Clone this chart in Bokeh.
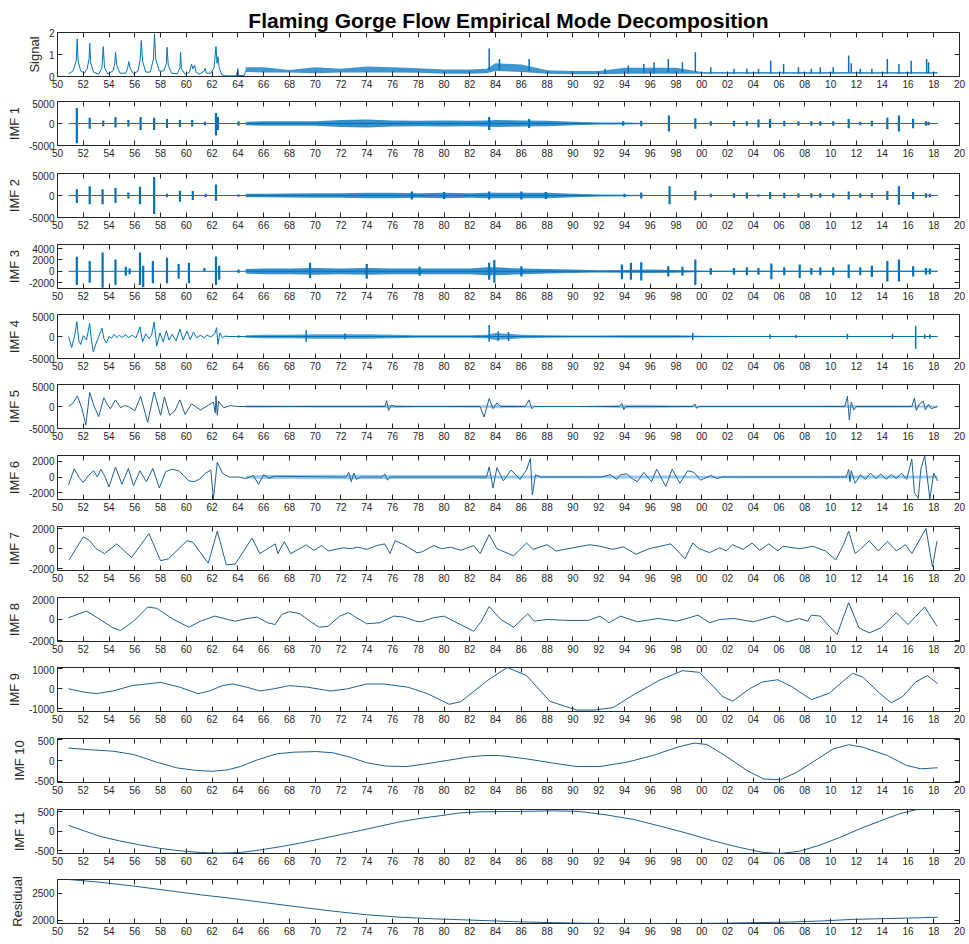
from bokeh.plotting import figure
from bokeh.layouts import column
from bokeh.models import Range1d, FixedTicker, LinearAxis, Label
from bokeh.embed import file_html
from bokeh.resources import INLINE

TITLE = "Flaming Gorge Flow Empirical Mode Decomposition"
FONT = "Liberation Sans"
AX = "#262626"
BLUE = "#0072BD"
LINE = "#1d5f92"

x_ticks = list(range(1950, 2021, 2))
x_tick_labels = ["50", "52", "54", "56", "58", "60", "62", "64", "66", "68", "70", "72",
                 "74", "76", "78", "80", "82", "84", "86", "88", "90", "92", "94", "96",
                 "98", "00", "02", "04", "06", "08", "10", "12", "14", "16", "18", "20"]

# ---------------- Signal ----------------
signal_line = [(1950.86, 1200), (1951.2, 2500), (1951.45, 7000), (1951.53, 17100), (1951.6, 7000),
               (1951.8, 2500), (1952.1, 1500), (1952.3, 3500), (1952.45, 8000), (1952.5, 15100),
               (1952.58, 6000), (1952.8, 2000), (1953.2, 1000), (1953.45, 4000), (1953.55, 13600),
               (1953.65, 4000), (1953.9, 1200), (1954.3, 2500), (1954.45, 6000), (1954.5, 11000),
               (1954.6, 5000), (1954.85, 1500), (1955.3, 1500), (1955.45, 4000), (1955.53, 6800),
               (1955.65, 3500), (1955.9, 1200), (1956.25, 2500), (1956.42, 8000), (1956.5, 16400),
               (1956.6, 7000), (1956.85, 2000), (1957.2, 2000), (1957.45, 8000), (1957.53, 19400),
               (1957.62, 8000), (1957.9, 2500), (1958.25, 2500), (1958.45, 6000), (1958.5, 13300),
               (1958.6, 5000), (1958.85, 1500), (1959.3, 1200), (1959.5, 4000), (1959.55, 11000),
               (1959.62, 3500), (1959.9, 1000), (1960.25, 2000), (1960.4, 5700), (1960.5, 3500),
               (1960.65, 5200), (1960.75, 2000), (1961.0, 1000), (1961.4, 2500), (1961.46, 3800),
               (1961.55, 1500), (1961.9, 1500), (1962.15, 4000), (1962.3, 13600), (1962.38, 6000),
               (1962.45, 9000), (1962.55, 4000), (1962.75, 800), (1963.0, 300), (1963.9, 300),
               (1964.0, 3600), (1964.05, 400), (1964.5, 500), (1964.6, 2500)]

band_t = [1964.6, 1966, 1968, 1970, 1972, 1974, 1976, 1978, 1980, 1982, 1983.3, 1984, 1986,
          1988, 1990, 1992, 1994, 1996, 1998, 2000, 2003, 2006, 2009, 2012, 2015, 2018.3]
signal_band_hi = [4200, 4200, 3000, 4200, 3500, 4500, 4200, 3800, 3200, 3200, 3500, 6000, 5500,
                  2800, 2500, 2500, 4000, 4000, 4000, 2000, 2000, 2000, 2000, 2000, 2000, 2000]
signal_band_lo = [2000, 1800, 1800, 1500, 1800, 1800, 1800, 1700, 1300, 1300, 1500, 2500, 2000,
                  1200, 1000, 1000, 1200, 1200, 1300, 1300, 1300, 1300, 1300, 1300, 1300, 1300]
signal_spikes = [(1983.5, 3000, 12700), (1984.3, 3000, 8000), (1986.6, 2500, 8000),
                 (1992.5, 1000, 3500),
                 (1994.3, 1500, 5000), (1995.5, 1500, 5700), (1996.3, 1500, 6500),
                 (1997.4, 2000, 8000), (1998.5, 2000, 6500), (1999.5, 2000, 11000),
                 (2000.7, 1300, 4200), (2002.5, 1300, 3500), (2003.5, 1300, 3500),
                 (2004.4, 1300, 3500), (2005.35, 1300, 7200), (2006.35, 1300, 5700),
                 (2007.5, 1300, 4200), (2008.5, 1300, 3500), (2009.2, 1300, 4200),
                 (2010.2, 1300, 4200), (2011.4, 1800, 9500), (2011.6, 1800, 6000),
                 (2012.3, 1300, 3500), (2013.2, 1300, 3500), (2014.4, 1300, 8000),
                 (2015.3, 1300, 5700), (2016.25, 1300, 7200), (2017.45, 1500, 8000),
                 (2017.6, 1500, 6500)]

# ---------------- IMF 1-3 (baseline + noise band + bursts) ----------------
base_line = [(1950.86, 0), (2018.3, 0)]
imf1_band_hi = [400, 500, 500, 500, 800, 900, 700, 600, 700, 600, 700, 800, 700,
                600, 400, 250, 200, 100, 100, 80, 80, 80, 80, 80, 80, 80]
imf1_spikes = [(1951.5, -4500, 3500), (1952.5, -1200, 1300), (1953.55, -600, 700),
               (1954.5, -900, 1500), (1955.5, -700, 800), (1956.45, -1500, 1500),
               (1957.5, -1500, 1300), (1958.5, -1000, 1000), (1959.5, -800, 800),
               (1960.45, -700, 800), (1961.45, -400, 400), (1962.3, -2700, 2400),
               (1962.45, -1500, 1500), (1964.05, -500, 500), (1983.5, -1500, 1500),
               (1986.6, -1000, 1000), (1993.9, -500, 500), (1995.3, -600, 600),
               (1997.45, -1800, 1800), (1999.5, -1200, 1200), (2000.7, -500, 500),
               (2002.5, -600, 600), (2003.5, -500, 500), (2004.4, -900, 900),
               (2005.3, -1000, 1000), (2006.4, -600, 600), (2007.5, -500, 500),
               (2008.5, -500, 500), (2009.2, -500, 500), (2010.2, -500, 500),
               (2011.4, -1100, 1000), (2012.3, -400, 400), (2013.2, -600, 600),
               (2014.4, -1300, 1300), (2015.3, -1800, 1800), (2016.4, -1100, 1100),
               (2017.4, -500, 500), (2017.6, -400, 400)]

imf2_band_hi = [400, 400, 450, 500, 500, 600, 600, 500, 600, 500, 600, 600, 600,
                600, 400, 250, 150, 100, 100, 80, 80, 80, 80, 80, 80, 80]
imf2_spikes = [(1951.5, -1700, 1400), (1952.5, -2000, 2100), (1953.5, -2000, 1400),
               (1954.5, -1700, 1700), (1955.5, -700, 700), (1956.4, -2000, 2000),
               (1957.5, -4200, 4200), (1958.5, -400, 400), (1959.5, -1400, 1100),
               (1960.5, -1000, 1000), (1961.5, -400, 400), (1962.3, -1200, 2500),
               (1964.05, -300, 300), (1977.5, -900, 900), (1980.0, -800, 800),
               (1983.5, -900, 900), (1986.0, -900, 900), (1987.9, -800, 800),
               (1994.0, -400, 400), (1995.3, -700, 700), (1997.5, -2000, 2100),
               (1999.5, -1100, 1100), (2000.7, -400, 400), (2002.5, -500, 500),
               (2003.5, -700, 700), (2004.4, -300, 300), (2005.3, -800, 800),
               (2006.4, -600, 600), (2007.5, -500, 500), (2008.5, -500, 500),
               (2009.2, -500, 500), (2010.2, -500, 500), (2011.4, -900, 900),
               (2012.3, -500, 500), (2013.2, -500, 500), (2014.4, -1000, 1000),
               (2015.3, -2100, 2100), (2016.4, -800, 800), (2017.4, -500, 500),
               (2017.7, -400, 400)]

imf3_band_hi = [400, 500, 500, 600, 500, 600, 500, 500, 500, 500, 700, 700, 500,
                400, 300, 200, 250, 300, 250, 100, 80, 80, 80, 80, 80, 80]
imf3_spikes = [(1951.5, -2400, 2550), (1952.5, -2000, 1800), (1953.5, -2900, 3300),
               (1954.5, -2400, 2100), (1955.3, -800, 800), (1955.6, -500, 500),
               (1956.4, -2400, 3300), (1956.65, -2800, 1000), (1957.4, -2100, 1800),
               (1958.5, -2100, 2400), (1959.4, -1300, 1300), (1960.2, -2100, 1500),
               (1961.4, 0, 600), (1962.3, -2400, 2600), (1962.55, -1500, 1000),
               (1964.05, -300, 300), (1969.6, -1200, 1500), (1974.0, -1300, 1300),
               (1978.1, -800, 800), (1983.5, -1500, 1500), (1983.9, -2000, 2000),
               (1986.0, -900, 900), (1993.8, -1400, 1200), (1994.5, -1500, 1500),
               (1995.3, -1600, 1600), (1997.4, -900, 900), (1998.5, -800, 800),
               (1999.5, -2400, 2100), (2000.7, -600, 600), (2002.5, -600, 600),
               (2003.5, -700, 700), (2004.4, -600, 600), (2005.4, -1400, 1400),
               (2006.4, -700, 700), (2007.6, -1200, 1200), (2008.5, -600, 600),
               (2009.2, -700, 700), (2010.2, -700, 700), (2011.4, -1200, 1200),
               (2012.3, -700, 700), (2013.2, -1000, 1000), (2014.4, -1800, 1800),
               (2015.3, -1800, 2100), (2016.4, -900, 900), (2017.4, -600, 600),
               (2017.7, -500, 500)]

# ---------------- IMF 4 ----------------
imf4_line = [(1950.86, 0), (1951.1, -2500), (1951.35, 500), (1951.5, 3400), (1951.65, -800),
             (1951.8, -1800), (1952.0, 200), (1952.25, -800), (1952.5, 3000), (1952.6, 0),
             (1952.78, -3500), (1953.0, -1500), (1953.2, 0), (1953.45, 1900), (1953.6, -500),
             (1953.8, -1500), (1954.0, 0), (1954.2, -400), (1954.4, 500), (1954.6, -300),
             (1954.8, 300), (1955.0, -200), (1955.3, 400), (1955.5, -300), (1955.8, 300),
             (1956.1, -300), (1956.4, 2200), (1956.6, -1200), (1956.85, 600), (1957.1, -500),
             (1957.3, 300), (1957.5, 3300), (1957.7, -2200), (1957.95, 800), (1958.2, -1200),
             (1958.45, 1300), (1958.65, -800), (1958.9, 500), (1959.2, -1000), (1959.5, 1700),
             (1959.75, -800), (1960.05, 1200), (1960.3, -700), (1960.55, 1000), (1960.8, -300),
             (1961.1, 300), (1961.4, -300), (1961.6, 300), (1961.9, -100), (1962.2, 600),
             (1962.35, 2000), (1962.45, -1800), (1962.6, 800), (1962.8, -300), (1963.0, 100),
             (1963.3, 0), (2018.3, 0)]
imf4_band_hi = [300, 400, 400, 500, 500, 500, 400, 300, 300, 300, 400, 800, 400,
                300, 200, 200, 300, 300, 300, 150, 100, 100, 100, 100, 100, 100]
imf4_spikes = [(1964.05, -300, 300), (1969.3, -1200, 1500), (1972.3, -700, 700),
               (1983.5, -1200, 2600), (1984.2, -1000, 1200), (1985.0, -1000, 1000),
               (1999.3, -800, 800), (2005.3, -500, 500), (2007.3, -400, 400),
               (2011.3, -600, 600), (2014.8, -600, 600), (2016.6, -2800, 2400),
               (2017.3, -500, 500), (2017.7, -500, 500)]

# ---------------- IMF 5 ----------------
imf5_line = [(1950.86, 0), (1951.2, 800), (1951.55, 2400), (1951.9, -500), (1952.2, -4200),
             (1952.5, 3200), (1952.85, 0), (1953.2, -2300), (1953.6, 2000), (1953.85, 500),
             (1954.1, -500), (1954.5, 1500), (1954.9, -300), (1955.2, 200), (1955.5, 0),
             (1956.0, -1000), (1956.45, 2300), (1957.0, -3600), (1957.5, 3300), (1958.0, -2000),
             (1958.3, 2200), (1958.7, -2000), (1959.1, -1000), (1959.5, 1500), (1959.9, -1800),
             (1960.4, 600), (1960.7, 0), (1961.1, -800), (1961.7, 300), (1962.1, 1000),
             (1962.25, -1500), (1962.3, 2400), (1962.4, -2000), (1962.5, 1200), (1962.9, -300),
             (1963.4, 200), (1964.0, 0), (1975.4, 0), (1975.55, 1300), (1975.7, -900),
             (1975.9, 300), (1976.2, 0), (1982.8, 0), (1983.1, -2400), (1983.5, 1800),
             (1983.8, -500), (1984.1, 800), (1984.4, 0), (1986.3, 0), (1986.6, 1500),
             (1986.8, -500), (1987.0, 0), (1993.6, 0), (1993.8, 700), (1993.95, -700),
             (1994.1, 0), (1999.3, 0), (1999.45, 600), (1999.6, -400), (1999.8, 0),
             (2011.1, 0), (2011.3, 2300), (2011.45, -3000), (2011.6, 1000), (2011.8, -800),
             (2012.0, 0), (2016.3, 0), (2016.5, 1900), (2016.65, -900), (2016.9, 600),
             (2017.2, 1200), (2017.35, -800), (2017.6, 500), (2017.8, -500), (2018.3, 0)]
imf5_band_hi = [300, 300, 250, 300, 300, 300, 350, 250, 250, 300, 300, 400, 300,
                100, 100, 200, 400, 400, 300, 200, 200, 200, 200, 300, 300, 200]

# ---------------- IMF 6 ----------------
imf6_line = [(1950.86, -1000), (1951.3, 1070), (1951.65, 0), (1952.0, -700), (1952.4, 200),
             (1952.8, 800), (1953.1, 0), (1953.36, 1000), (1953.7, 0), (1954.0, -1270),
             (1954.5, 1270), (1955.0, -900), (1955.5, 1100), (1955.9, -1100), (1956.4, 800),
             (1956.9, -600), (1957.4, 1100), (1957.9, -1400), (1958.4, 700), (1958.9, 1000),
             (1959.4, 800), (1959.8, 200), (1960.2, -500), (1960.6, -600), (1961.0, -300),
             (1961.5, 500), (1961.9, 900), (1962.1, -2800), (1962.4, 1900), (1962.8, 500),
             (1963.3, 0), (1964.1, 0), (1964.6, -200), (1965.2, 200), (1965.6, -950),
             (1966.0, 300), (1966.4, -150), (1966.8, 100), (1972.4, 0), (1972.6, 600),
             (1972.8, -600), (1973.0, 500), (1973.2, -300), (1973.5, 0), (1975.2, 0),
             (1975.4, 400), (1975.6, -400), (1975.8, 0), (1983.3, 0), (1983.5, 1300),
             (1983.8, -1400), (1984.1, 1200), (1984.6, -500), (1985.2, 900), (1985.9, -300),
             (1986.4, 900), (1986.7, 2400), (1986.85, -2300), (1987.1, 300), (1987.5, 0),
             (1992.2, 0), (1992.9, 300), (1993.4, -300), (1993.7, 300), (1994.2, 400),
             (1994.6, -200), (1995.0, -600), (1995.5, 600), (1996.1, -600), (1996.5, 1000),
             (1997.2, -1200), (1997.7, 1000), (1998.3, -800), (1998.9, 800), (1999.4, 600),
             (1999.9, -400), (2000.7, 200), (2001.2, -200), (2001.6, 0), (2011.2, 0),
             (2011.4, 950), (2011.5, -600), (2011.6, 800), (2011.9, -800), (2012.3, 300),
             (2012.7, -300), (2013.1, 500), (2013.5, -200), (2013.9, 400), (2014.3, -300),
             (2014.7, 300), (2015.1, -200), (2015.5, 500), (2015.9, -300), (2016.3, 2300),
             (2016.5, -2000), (2016.8, -2750), (2017.0, 1000), (2017.3, 2700), (2017.7, -2800),
             (2018.0, 500), (2018.3, -500)]
imf6_band_hi = [150, 250, 250, 300, 300, 300, 250, 250, 250, 250, 250, 200, 200,
                150, 150, 150, 200, 200, 200, 150, 150, 150, 150, 200, 200, 150]

# ---------------- IMF 7-11, Residual ----------------
imf7_line = [(1950.9, -1100), (1952.0, 1170), (1952.5, 800), (1953.0, 0), (1953.65, -480),
             (1954.6, 480), (1955.75, -860), (1957.1, 1490), (1958.0, -1180), (1958.6, -1000),
             (1960.05, 790), (1960.5, 640), (1961.7, -1430), (1962.4, 1740), (1963.1, -1590),
             (1963.8, -1500), (1965.1, 1050), (1965.7, -480), (1966.9, 480), (1967.1, -480),
             (1967.6, 700), (1968.1, -480), (1969.3, 380), (1969.9, -160), (1970.5, 320),
             (1971.0, -220), (1972.2, 100), (1972.7, 0), (1973.3, 160), (1974.0, -60),
             (1974.8, 320), (1975.4, 480), (1975.8, -480), (1976.2, 800), (1976.9, 400),
             (1977.9, -400), (1978.3, -300), (1979.2, 320), (1979.8, 0), (1980.5, 150),
             (1981.3, -150), (1982.3, 320), (1982.8, -480), (1983.5, 1400), (1984.1, 0),
             (1985.4, -700), (1986.4, 570), (1986.9, -60), (1988.0, 400), (1988.7, -220),
             (1990.0, 100), (1991.3, 400), (1992.1, 250), (1993.1, -60), (1993.9, 190),
             (1994.9, -540), (1995.9, 0), (1997.6, 480), (1998.7, -1000), (1999.3, 570),
             (1999.8, 0), (2000.6, -380), (2001.4, 100), (2001.9, -220), (2002.4, 400),
             (2003.2, -60), (2003.9, 570), (2004.5, -160), (2005.2, 480), (2005.9, -220),
             (2006.3, 250), (2007.6, 0), (2008.6, 250), (2009.6, -220), (2010.4, -1100),
             (2011.0, 400), (2011.4, 1740), (2011.9, -470), (2012.3, -60), (2013.0, 790),
             (2013.7, -220), (2014.4, 730), (2015.1, -220), (2015.8, 400), (2016.3, -470),
             (2017.4, 2000), (2017.9, -1800), (2018.25, 730)]

imf8_line = [(1950.86, 160), (1952.25, 780), (1953.3, 0), (1954.3, -780), (1954.9, -1030),
             (1955.9, -160), (1957.0, 1160), (1957.7, 1030), (1959.0, 0), (1960.2, -720),
             (1961.1, -160), (1962.2, 310), (1963.2, 0), (1963.8, -160), (1964.7, 90),
             (1965.5, 220), (1966.3, -310), (1966.9, -470), (1967.4, 470), (1968.0, 720),
             (1968.8, 530), (1969.6, -160), (1970.3, -720), (1971.0, -630), (1971.9, 310),
             (1972.6, 630), (1973.2, 160), (1974.0, -400), (1975.0, -310), (1976.1, 310),
             (1976.9, 220), (1977.8, -160), (1978.2, -220), (1979.2, 160), (1980.0, 310),
             (1981.0, -310), (1982.3, -1100), (1982.9, -160), (1983.5, 1200), (1984.4, 0),
             (1985.4, -720), (1986.5, 530), (1987.0, -160), (1988.0, 0), (1989.6, -90),
             (1991.2, -90), (1992.1, 310), (1992.8, -310), (1993.7, 310), (1995.0, -220),
             (1996.6, 90), (1998.1, -160), (1999.7, 400), (2000.6, -310), (2001.4, 0),
             (2002.5, 90), (2004.0, -220), (2005.6, 310), (2006.6, -220), (2007.6, 90),
             (2008.2, -160), (2008.5, 400), (2009.2, 310), (2010.0, -780), (2010.5, -1400),
             (2011.4, 1560), (2012.2, -780), (2013.0, -1250), (2013.9, -780), (2015.1, 630),
             (2016.0, -470), (2017.3, 1160), (2018.25, -630)]

imf9_line = [(1950.86, 0), (1952.0, -160), (1953.0, -240), (1954.3, -110), (1955.8, 160),
             (1958.0, 320), (1959.5, 80), (1960.9, -240), (1961.8, -110), (1962.8, 160),
             (1963.6, 240), (1964.7, 80), (1965.7, -110), (1966.8, 0), (1968.0, 160),
             (1969.4, 80), (1971.2, -110), (1972.5, 0), (1974.0, 240), (1975.3, 240),
             (1977.2, 80), (1978.7, -240), (1980.4, -770), (1981.3, -640), (1982.4, -80),
             (1983.4, 430), (1984.9, 1060), (1986.4, 660), (1988.2, -620), (1990.3, -1060),
             (1991.6, -1060), (1993.1, -940), (1994.7, -300), (1996.7, 420), (1998.5, 900),
             (1999.8, 820), (2000.8, 180), (2001.6, -380), (2002.4, -620), (2003.7, 0),
             (2004.7, 340), (2005.9, 450), (2007.0, 100), (2008.5, -540), (2009.9, -220),
             (2010.9, 340), (2011.7, 770), (2012.5, 580), (2013.8, -220), (2014.7, -700),
             (2015.6, -380), (2016.6, 340), (2017.5, 660), (2018.3, 260)]

imf10_line = [(1950.86, 300), (1952.25, 265), (1954.3, 225), (1955.9, 145), (1957.7, -40),
              (1959.3, -180), (1960.8, -240), (1962.0, -260), (1963.2, -225), (1964.2, -145),
              (1965.5, 15), (1967.0, 160), (1968.3, 200), (1970.1, 215), (1971.4, 185),
              (1972.7, 80), (1974.0, -55), (1975.5, -135), (1977.1, -145), (1978.6, -80),
              (1980.2, 0), (1981.8, 80), (1983.1, 120), (1984.3, 120), (1986.4, 40),
              (1988.5, -65), (1990.3, -145), (1992.1, -145), (1994.2, -40), (1996.2, 120),
              (1998.1, 320), (1999.4, 420), (2000.4, 385), (2002.0, 80), (2003.5, -240),
              (2004.8, -445), (2006.1, -465), (2007.4, -280), (2009.0, 40), (2010.2, 280),
              (2011.4, 380), (2012.5, 320), (2014.4, 120), (2015.9, -120), (2017.0, -200),
              (2018.3, -175)]

imf11_line = [(1950.86, 150), (1952.0, 20), (1953.3, -130), (1954.8, -245), (1956.4, -350),
              (1958.0, -440), (1959.5, -500), (1961.1, -545), (1962.6, -560), (1964.2, -545),
              (1965.7, -480), (1967.3, -395), (1968.8, -305), (1970.4, -195), (1971.9, -90),
              (1973.5, 20), (1975.0, 130), (1976.6, 245), (1978.2, 335), (1979.7, 400),
              (1981.3, 475), (1982.8, 500), (1985.9, 510), (1988.5, 525), (1990.5, 510),
              (1992.6, 420), (1994.7, 305), (1996.8, 130), (1998.8, -45), (2000.9, -245),
              (2003.0, -420), (2004.8, -545), (2006.1, -570), (2007.6, -510), (2009.2, -350),
              (2010.7, -160), (2012.3, 70), (2013.8, 260), (2015.4, 455), (2016.7, 560),
              (2018.3, 560)]

residual_line = [(1950.86, 2750), (1953.3, 2700), (1955.9, 2630), (1958.5, 2550), (1961.1, 2470),
                 (1963.7, 2400), (1966.3, 2320), (1968.8, 2245), (1971.4, 2170), (1974.0, 2105),
                 (1976.6, 2060), (1979.2, 2030), (1981.8, 2010), (1984.1, 1990), (1985.9, 1975),
                 (1988.5, 1960), (1991.1, 1950), (1993.6, 1945), (1996.2, 1945), (1998.8, 1945),
                 (2001.4, 1950), (2004.0, 1960), (2006.6, 1970), (2009.2, 1990), (2011.7, 2020),
                 (2014.3, 2035), (2016.9, 2050), (2018.3, 2060)]

# ---------------- panel axes ----------------
panel_names = ["Signal", "IMF 1", "IMF 2", "IMF 3", "IMF 4", "IMF 5", "IMF 6",
               "IMF 7", "IMF 8", "IMF 9", "IMF 10", "IMF 11", "Residual"]
panel_ylims = [(0, 20000), (-5000, 5000), (-5000, 5000), (-3030, 4730), (-5000, 5000),
               (-5000, 5000), (-2880, 2760), (-2150, 2200), (-2050, 2040), (-1130, 1060),
               (-530, 530), (-570, 560), (1945, 2750)]
panel_yticks = [[0, 10000, 20000], [-5000, 0, 5000], [-5000, 0, 5000],
                [-2000, 0, 2000, 4000], [-5000, 0, 5000], [-5000, 0, 5000],
                [-2000, 0, 2000], [-2000, 0, 2000], [-2000, 0, 2000], [-1000, 0, 1000],
                [-500, 0, 500], [-500, 0, 500], [2000, 2500]]
panel_ytick_labels = [["0", "1", "2"], ["-5000", "0", "5000"], ["-5000", "0", "5000"],
                      ["-2000", "0", "2000", "4000"], ["-5000", "0", "5000"],
                      ["-5000", "0", "5000"], ["-2000", "0", "2000"], ["-2000", "0", "2000"],
                      ["-2000", "0", "2000"], ["-1000", "0", "1000"], ["-500", "0", "500"],
                      ["-500", "0", "500"], ["2000", "2500"]]

# layout (pixel sizes)
fig_heights = [99, 72, 71, 70, 70, 71, 71, 71, 70, 71, 71, 70, 65]
fig_top = [32] + [2] * 12
fig_bottom = [23, 26, 25, 24, 24, 25, 25, 25, 24, 25, 25, 24, 19]


def style_axis(ax, show_labels):
    ax.axis_line_color = None
    ax.major_tick_in = 5
    ax.major_tick_out = 0
    ax.minor_tick_line_color = None
    ax.major_tick_line_color = AX
    ax.major_tick_line_width = 1
    ax.major_label_text_font = FONT
    ax.major_label_text_font_size = "10px"
    if show_labels:
        ax.major_label_text_color = AX
        ax.major_label_standoff = 3
    else:
        ax.major_label_text_color = None
        ax.major_label_standoff = 0


def make_fig(i):
    p = figure(width=967, height=fig_heights[i],
               x_range=Range1d(1950, 2020), y_range=Range1d(*panel_ylims[i]),
               x_axis_type=None, y_axis_type=None,
               output_backend="svg", toolbar_location=None,
               min_border_left=57, min_border_right=8,
               min_border_top=fig_top[i], min_border_bottom=fig_bottom[i])
    p.outline_line_color = AX
    p.outline_line_alpha = 1
    p.outline_line_width = 1
    p.background_fill_color = "white"
    p.border_fill_color = "white"

    xb = LinearAxis(ticker=FixedTicker(ticks=x_ticks),
                    major_label_overrides=dict(zip(x_ticks, x_tick_labels)))
    style_axis(xb, True)
    p.add_layout(xb, "below")
    xt = LinearAxis(ticker=FixedTicker(ticks=x_ticks))
    style_axis(xt, False)
    p.add_layout(xt, "above")

    yt = panel_yticks[i]
    yl = LinearAxis(ticker=FixedTicker(ticks=yt),
                    major_label_overrides=dict(zip(yt, panel_ytick_labels[i])),
                    axis_label=panel_names[i])
    style_axis(yl, True)
    yl.axis_label_text_font = FONT
    yl.axis_label_text_font_size = "13px"
    yl.axis_label_text_font_style = "normal"
    yl.axis_label_text_color = AX
    yl.axis_label_standoff = 4
    p.add_layout(yl, "left")
    yr = LinearAxis(ticker=FixedTicker(ticks=yt))
    style_axis(yr, False)
    p.add_layout(yr, "right")
    return p


def add_line(p, pts, width=1.0, color=LINE):
    t = [a for a, b in pts]
    v = [b for a, b in pts]
    p.line(t, v, line_color=color, line_width=width)


def add_band(p, lo, hi, alpha):
    p.varea(x=band_t, y1=lo, y2=hi, fill_color=BLUE, fill_alpha=alpha)


def add_spikes(p, spikes, width=2.2):
    t = [s[0] for s in spikes]
    lo = [s[1] for s in spikes]
    hi = [s[2] for s in spikes]
    p.segment(x0=t, y0=lo, x1=t, y1=hi, line_color=BLUE, line_width=width)


figs = [make_fig(i) for i in range(13)]

# Signal
p0 = figs[0]
p0.title.text = TITLE
p0.title.align = "center"
p0.title.text_font = FONT
p0.title.text_font_size = "21px"
p0.title.text_font_style = "bold"
p0.title.text_color = "black"
p0.title.standoff = 1
add_band(p0, signal_band_lo, signal_band_hi, 0.75)
add_line(p0, signal_line, 1.0, BLUE)
add_spikes(p0, signal_spikes, 1.5)
p0.add_layout(Label(x=1950.25, y=20000, text="×10⁴", text_font=FONT, text_font_size="10px",
                    text_color=AX, text_baseline="bottom", y_offset=1))

# IMF 1-3
for p, hi_arr, spk in [(figs[1], imf1_band_hi, imf1_spikes),
                       (figs[2], imf2_band_hi, imf2_spikes),
                       (figs[3], imf3_band_hi, imf3_spikes)]:
    add_line(p, base_line, 1.0, BLUE)
    add_band(p, [-h for h in hi_arr], hi_arr, 0.8)
    add_spikes(p, spk)

# IMF 4
add_line(figs[4], imf4_line, 1.0, BLUE)
add_band(figs[4], [-h for h in imf4_band_hi], imf4_band_hi, 0.7)
add_spikes(figs[4], imf4_spikes, 1.5)

# IMF 5, 6
add_line(figs[5], imf5_line)
add_band(figs[5], [-h for h in imf5_band_hi], imf5_band_hi, 0.4)
add_line(figs[6], imf6_line)
add_band(figs[6], [-h for h in imf6_band_hi], imf6_band_hi, 0.4)

# smooth IMFs
add_line(figs[7], imf7_line)
add_line(figs[8], imf8_line)
add_line(figs[9], imf9_line)
add_line(figs[10], imf10_line)
add_line(figs[11], imf11_line)
add_line(figs[12], residual_line)

layout = column(*figs, spacing=0)
open("out.html", "w").write(file_html(layout, INLINE, title=TITLE))
